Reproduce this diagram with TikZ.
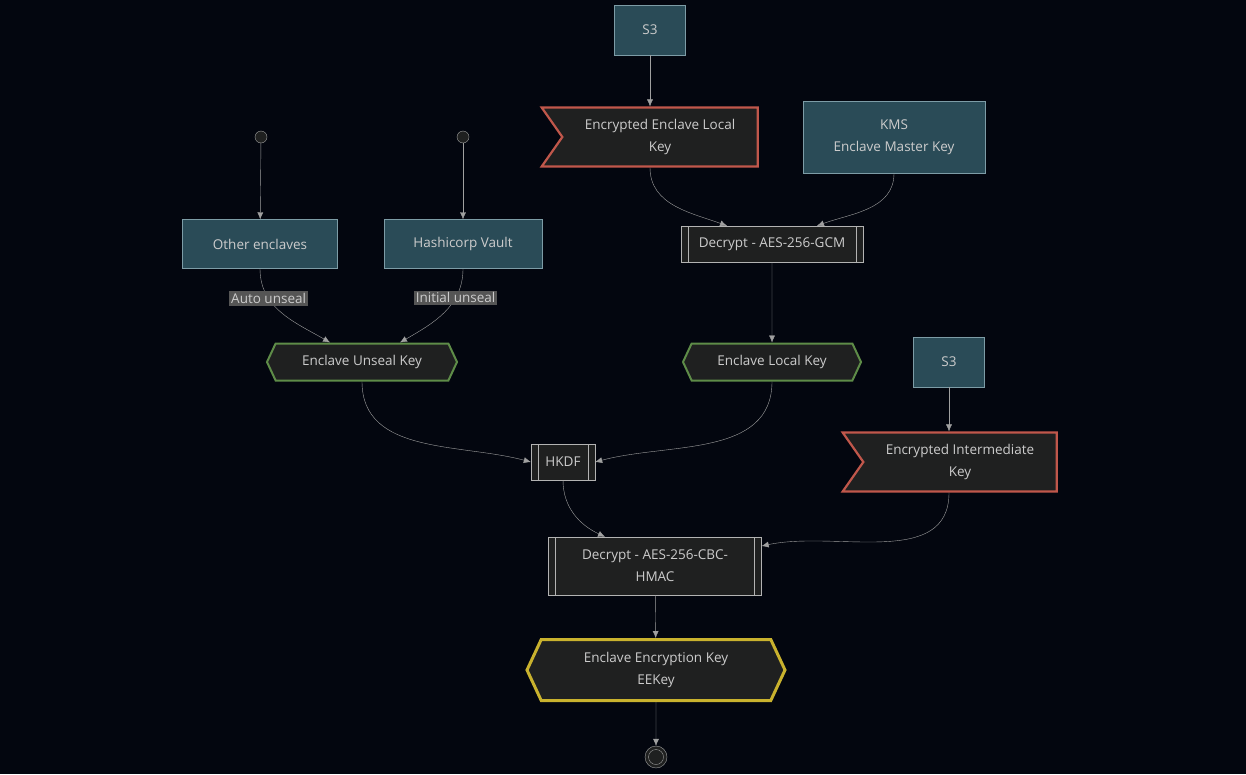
\documentclass[tikz,border=0pt]{standalone}
\usepackage{fontspec}
\setmainfont{Open Sans}
\usetikzlibrary{positioning,shapes.symbols,arrows.meta}
\definecolor{bgc}{HTML}{03060F}
\definecolor{teal}{HTML}{2A4B57}
\definecolor{tealb}{HTML}{7D9CA6}
\definecolor{dark}{HTML}{1F2020}
\definecolor{redb}{HTML}{C0574B}
\definecolor{greenb}{HTML}{5E8C48}
\definecolor{yelb}{HTML}{C9B22E}
\definecolor{txt}{HTML}{CCCCCC}
\definecolor{lin}{HTML}{A0A0A0}
\definecolor{lbl}{HTML}{555555}
\tikzset{
	box/.style={rectangle, draw=tealb, fill=teal, thin, text=txt, align=center},
	flag/.style={signal, signal from=west, signal to=nowhere, signal pointer angle=110, draw=redb, fill=dark, line width=2.2pt, text=txt, align=center, inner sep=0pt},
	hexa/.style={signal, signal to=east and west, signal pointer angle=130, draw=greenb, fill=dark, line width=2pt, text=txt, align=center, inner sep=0pt},
	sub/.style={rectangle, draw=lin!80, fill=dark, thin, text=txt, align=center,
		path picture={\draw[lin!80] ([xshift=7pt]path picture bounding box.north west) -- ([xshift=7pt]path picture bounding box.south west);
			\draw[lin!80] ([xshift=-7pt]path picture bounding box.north east) -- ([xshift=-7pt]path picture bounding box.south east);}},
	start/.style={circle, draw=lin, fill=dark, minimum size=12pt, inner sep=0pt},
	lab/.style={fill=lbl, text=txt, inner sep=2pt},
	arr/.style={-{Latex[length=7pt,width=6pt]}, draw=lin, thin},
}
\begin{document}
\begin{tikzpicture}[x=1pt, y=-1pt, font=\fontsize{13.5}{22}\selectfont]
	\fill[bgc] (0,0) rectangle (1246,774);
	\useasboundingbox (0,0) rectangle (1246,774);
	%Top branch
	\node[box, minimum width=71pt, minimum height=50pt] (s3a) at (650,30) {S3};
	\node[flag, minimum width=216pt, minimum height=59pt] (eelk) at (660,137) {Encrypted Enclave Local\\Key};
	\node[box, minimum width=182pt, minimum height=72pt] (kms) at (894,137) {KMS\\Enclave Master Key};
	\node[sub, minimum width=182pt, minimum height=36pt] (gcm) at (772,244) {Decrypt - AES-256-GCM};
	\node[hexa, minimum width=178pt, minimum height=37pt] (elk) at (772,362) {Enclave Local Key};
	%Unseal branch
	\node[start] (st1) at (261,137) {};
	\node[start] (st2) at (463,137) {};
	\node[box, minimum width=155pt, minimum height=49pt] (other) at (260,244) {Other enclaves};
	\node[box, minimum width=158pt, minimum height=49pt] (vault) at (463,244) {Hashicorp Vault};
	\node[hexa, minimum width=190pt, minimum height=37pt] (euk) at (362,362) {Enclave Unseal Key};
	%Intermediate branch
	\node[box, minimum width=71pt, minimum height=50pt] (s3b) at (949,362) {S3};
	\node[flag, minimum width=214pt, minimum height=59pt] (eik) at (960,462) {Encrypted Intermediate\\Key};
	\node[sub, minimum width=64pt, minimum height=36pt] (hkdf) at (563,462) {HKDF};
	\node[sub, minimum width=213pt, minimum height=58pt] (cbc) at (655,566) {Decrypt - AES-256-CBC-\\HMAC};
	\node[hexa, draw=yelb, line width=3pt, minimum width=258pt, minimum height=61pt] (eek) at (656,670) {Enclave Encryption Key\\EEKey};
	\node[circle, draw=lin, fill=dark, minimum size=22pt, inner sep=0pt] (end) at (656,757) {};
	\node[circle, draw=lin, minimum size=15pt, inner sep=0pt] at (end) {};

	\draw[arr] (s3a) -- (s3a |- eelk.north);
	\draw[arr] (s3a |- eelk.south) to[out=-90, in=160] ([xshift=-45pt]gcm.north);
	\draw[arr] (kms.south) to[out=-90, in=20] ([xshift=45pt]gcm.north);
	\draw[arr] (gcm) -- (elk);
	\draw[arr] (st1) -- (other);
	\draw[arr] (st2) -- (vault);
	\draw[arr] (other.south) to[out=-90, in=150] node[lab, pos=0.3] {Auto unseal} ([xshift=-32pt]euk.north);
	\draw[arr] (vault.south) to[out=-90, in=30] node[lab, pos=0.3] {Initial unseal} ([xshift=38pt]euk.north);
	\draw[arr] (euk.south) to[out=-90, in=165] (hkdf.west);
	\draw[arr] (elk.south) to[out=-90, in=15] (hkdf.east);
	\draw[arr] (s3b) -- (s3b |- eik.north);
	\draw[arr] (hkdf.south) to[out=-90, in=155] ([xshift=-50pt]cbc.north);
	\draw[arr] (s3b |- eik.south) to[out=-90, in=12] ([yshift=20pt]cbc.east);
	\draw[arr] (cbc) -- (eek);
	\draw[arr] (eek) -- (end);
\end{tikzpicture}
\end{document}
